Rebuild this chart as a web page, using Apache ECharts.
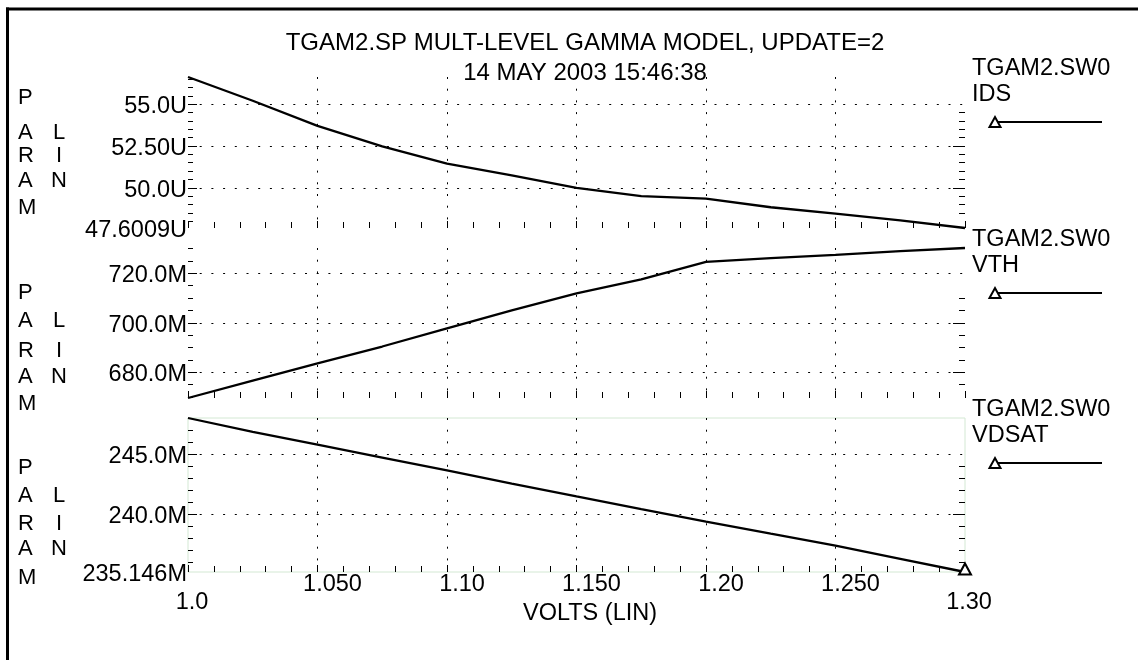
<!DOCTYPE html>
<html><head><meta charset="utf-8">
<script src="https://cdn.jsdelivr.net/npm/echarts@6/dist/echarts.min.js"></script>
<style>html,body{margin:0;padding:0;background:#fff}#c{width:1138px;height:660px}</style>
</head><body><div id="c"></div>
<script>
// ---------- data ----------
const volts = [1.0, 1.025, 1.05, 1.075, 1.10, 1.125, 1.15, 1.175, 1.20, 1.225, 1.25, 1.275, 1.30];
const ids   = [56.62, 55.2, 53.7, 52.48, 51.44, 50.74, 50.0, 49.51, 49.35, 48.84, 48.46, 48.05, 47.6009]; // U
const vth   = [669.6, 676.6, 683.6, 690.4, 697.7, 705.0, 711.9, 717.5, 724.6, 726.1, 727.4, 728.9, 730.2]; // M
const vdsat = [248.0, 246.85, 245.78, 244.7, 243.62, 242.53, 241.45, 240.4, 239.36, 238.35, 237.35, 236.25, 235.146]; // M

const xTickValues = [1.0, 1.05, 1.10, 1.15, 1.20, 1.25, 1.30];
const xTickLabels = ['1.0', '1.050', '1.10', '1.150', '1.20', '1.250', '1.30'];

const idsLabelValues = [47.6009, 50, 52.5, 55];
const idsLabels = ['47.6009U', '50.0U', '52.50U', '55.0U'];
const vthLabelValues = [680, 700, 720];
const vthLabels = ['680.0M', '700.0M', '720.0M'];
const vdsatLabelValues = [235.146, 240, 245];
const vdsatLabels = ['235.146M', '240.0M', '245.0M'];

const idsMajor = [50, 52.5, 55];
const idsMinorLeft = [48, 48.5, 49, 49.5, 50.5, 51, 51.5, 52, 53, 53.5, 54, 54.5, 55.5, 56, 56.5];
const idsMajorRight = [50, 52.5];
const idsMinorRight = [48.5, 49, 49.5, 50.5, 51, 51.5, 52, 53, 53.5, 54, 54.5];
const vthMajor = [680, 700, 720];
const vthMinorLeft = [670, 675, 685, 690, 695, 705, 710, 715, 725, 730];
const vthMajorRight = [680, 700];
const vthMinorRight = [675, 685, 690, 695, 705, 710];
const vdsatMajor = [240, 245];
const vdsatMinorLeft = [236, 237, 238, 239, 241, 242, 243, 244, 246, 247];
const vdsatMajorRight = [240];
const vdsatMinorRight = [236, 237, 238, 239, 241, 242, 243, 244];

const titleLine1 = 'TGAM2.SP MULT-LEVEL GAMMA MODEL, UPDATE=2';
const titleLine2 = '14 MAY 2003 15:46:38';
const xName = 'VOLTS (LIN)';
const sweepName = 'TGAM2.SW0';
const seriesNames = ['IDS', 'VTH', 'VDSAT'];

// ---------- layout ----------
const FONT = '"Liberation Sans", Arial, Helvetica, sans-serif';
const FS = 23.5;
const panels = [
  {top: 77, height: 151, vals: ids, lv: idsLabelValues, lt: idsLabels, ml: idsMajor, nl: idsMinorLeft, mr: idsMajorRight, nr: idsMinorRight},
  {top: 248, height: 150, vals: vth, lv: vthLabelValues, lt: vthLabels, ml: vthMajor, nl: vthMinorLeft, mr: vthMajorRight, nr: vthMinorRight},
  {top: 418, height: 154, vals: vdsat, lv: vdsatLabelValues, lt: vdsatLabels, ml: vdsatMajor, nl: vdsatMinorLeft, mr: vdsatMajorRight, nr: vdsatMinorRight}
];
const PLOT_LEFT = 188, PLOT_RIGHT = 965;
const DOT = {color: '#000', width: 1, type: [2, 9.7]};

function fmt(vals, texts) {
  return function (v) {
    const i = vals.findIndex(x => Math.abs(x - v) < 1e-6);
    return i >= 0 ? texts[i] : '';
  };
}

const grids = [], xAxes = [], yAxes = [], series = [];
panels.forEach((p, gi) => {
  const mn = Math.min(...p.vals), mx = Math.max(...p.vals);
  grids.push({
    left: PLOT_LEFT, right: 1138 - PLOT_RIGHT, top: p.top, height: p.height,
    show: gi === 2, borderColor: '#d3e8d3', borderWidth: 1, backgroundColor: 'transparent'
  });
  xAxes.push({
    type: 'value', gridIndex: gi, min: 1.0, max: 1.3, interval: 0.05, position: 'bottom',
    axisLine: {show: false},
    axisTick: {show: true, inside: true, length: 7, lineStyle: {color: '#000', width: 1}},
    minorTick: {show: true, splitNumber: 5, length: 6, lineStyle: {color: '#000', width: 1}},
    axisLabel: {show: false},
    splitLine: {show: true, showMinLine: false, showMaxLine: false, lineStyle: DOT},
    minorSplitLine: {show: false}
  });
  const base = {type: 'value', gridIndex: gi, min: mn, max: mx, axisLine: {show: false}, minorTick: {show: false}, splitLine: {show: false}};
  yAxes.push(Object.assign({}, base, {
    position: 'left',
    axisTick: {show: true, inside: true, length: 9, customValues: p.ml, lineStyle: {color: '#000', width: 1}},
    axisLabel: {show: true, customValues: p.lv, formatter: fmt(p.lv, p.lt), margin: 1,
      verticalAlign: 'top', lineHeight: 5,
      fontFamily: FONT, fontSize: FS, color: '#000'}
  }));
  yAxes.push(Object.assign({}, base, {
    position: 'left',
    axisTick: {show: true, inside: true, length: 5, customValues: p.nl, lineStyle: {color: '#000', width: 1}},
    axisLabel: {show: false}
  }));
  yAxes.push(Object.assign({}, base, {
    position: 'right',
    axisTick: {show: true, inside: true, length: 12, customValues: p.mr, lineStyle: {color: '#000', width: 1}},
    axisLabel: {show: false}
  }));
  yAxes.push(Object.assign({}, base, {
    position: 'right',
    axisTick: {show: true, inside: true, length: 6, customValues: p.nr, lineStyle: {color: '#000', width: 1}},
    axisLabel: {show: false}
  }));
  const s = {
    type: 'line', name: seriesNames[gi], xAxisIndex: gi, yAxisIndex: gi * 4,
    data: volts.map((v, i) => [v, p.vals[i]]),
    showSymbol: false, symbol: 'none', clip: false, silent: true, animation: false,
    lineStyle: {color: '#000', width: 2.3},
    markLine: {
      silent: true, animation: false, symbol: ['none', 'none'], label: {show: false},
      lineStyle: DOT,
      data: p.ml.map(v => ({yAxis: v}))
    }
  };
  if (gi === 2) {
    const last = volts.length - 1;
    s.markPoint = {
      silent: true, animation: false,
      data: [{coord: [volts[last], p.vals[last]], symbol: 'triangle', symbolSize: [12, 11], symbolOffset: [0, -3],
        itemStyle: {color: '#fff', borderColor: '#000', borderWidth: 2}}],
      label: {show: false}
    };
  }
  series.push(s);
});

// bottom label axes
const inner = xTickValues.slice(1, -1), innerT = xTickLabels.slice(1, -1);
const edge = [xTickValues[0], xTickValues[xTickValues.length - 1]];
const edgeT = [xTickLabels[0], xTickLabels[xTickLabels.length - 1]];
xAxes.push({
  type: 'value', gridIndex: 2, min: 1.0, max: 1.3, position: 'bottom',
  axisLine: {show: false}, axisTick: {show: false}, splitLine: {show: false},
  axisLabel: {show: true, customValues: inner, formatter: fmt(inner, innerT), margin: 1, padding: [0, 0, 0, 30],
    fontFamily: FONT, fontSize: FS, color: '#000'},
  name: xName, nameLocation: 'middle', nameGap: 30,
  nameTextStyle: {fontFamily: FONT, fontSize: FS, color: '#000', padding: [0, 0, 0, 27]}
});
xAxes.push({
  type: 'value', gridIndex: 2, min: 1.0, max: 1.3, position: 'bottom',
  axisLine: {show: false}, axisTick: {show: false}, splitLine: {show: false},
  axisLabel: {show: true, customValues: edge, formatter: fmt(edge, edgeT), margin: 19, padding: [0, 0, 0, 8],
    fontFamily: FONT, fontSize: FS, color: '#000'}
});

// decorations: frame, axis captions, legend entries
const graphic = [
  {type: 'line', shape: {x1: 6, y1: 9, x2: 1138, y2: 9}, style: {stroke: '#000', lineWidth: 3}},
  {type: 'line', shape: {x1: 7.5, y1: 7.5, x2: 7.5, y2: 660}, style: {stroke: '#000', lineWidth: 3}}
];
const letterY = [
  [97.5, 132.5, 155.8, 180.8, 207.5],
  [293, 320.8, 351.2, 377, 404],
  [467.5, 495.8, 524, 549, 577.5]
];
const txt = (x, y, s, align) => ({type: 'text', x: x, y: y,
  style: {text: s, fill: '#000', font: '22px ' + FONT, textAlign: align || 'left', textVerticalAlign: 'middle'}});
letterY.forEach(ys => {
  'PARAM'.split('').forEach((ch, i) => graphic.push(txt(18, ys[i], ch)));
  'LIN'.split('').forEach((ch, i) => graphic.push(txt(59, ys[i + 1], ch, 'center')));
});
panels.forEach((p, gi) => {
  const T = p.top;
  graphic.push({type: 'text', x: 972, y: T - 8, style: {text: sweepName, fill: '#000', font: FS + 'px ' + FONT, textVerticalAlign: 'middle'}});
  graphic.push({type: 'text', x: 972, y: T + 18, style: {text: seriesNames[gi], fill: '#000', font: FS + 'px ' + FONT, textVerticalAlign: 'middle'}});
  graphic.push({type: 'line', shape: {x1: 997, y1: T + 45, x2: 1102, y2: T + 45}, style: {stroke: '#000', lineWidth: 2}});
  graphic.push({type: 'polygon', shape: {points: [[989.5, T + 50], [995, T + 40], [1000.5, T + 50]]},
    style: {fill: '#fff', stroke: '#000', lineWidth: 2}});
});

const chart = echarts.init(document.getElementById('c'), null, {renderer: 'canvas'});
chart.setOption({
  animation: false,
  backgroundColor: '#fff',
  title: {
    text: titleLine1, subtext: titleLine2, left: 585, top: 28, textAlign: 'center', padding: 0, itemGap: 0,
    textStyle: {fontFamily: FONT, fontSize: 24, fontWeight: 'normal', color: '#000', lineHeight: 30},
    subtextStyle: {fontFamily: FONT, fontSize: 24, color: '#000', lineHeight: 30}
  },
  grid: grids, xAxis: xAxes, yAxis: yAxes, series: series, graphic: graphic
});
</script></body></html>
